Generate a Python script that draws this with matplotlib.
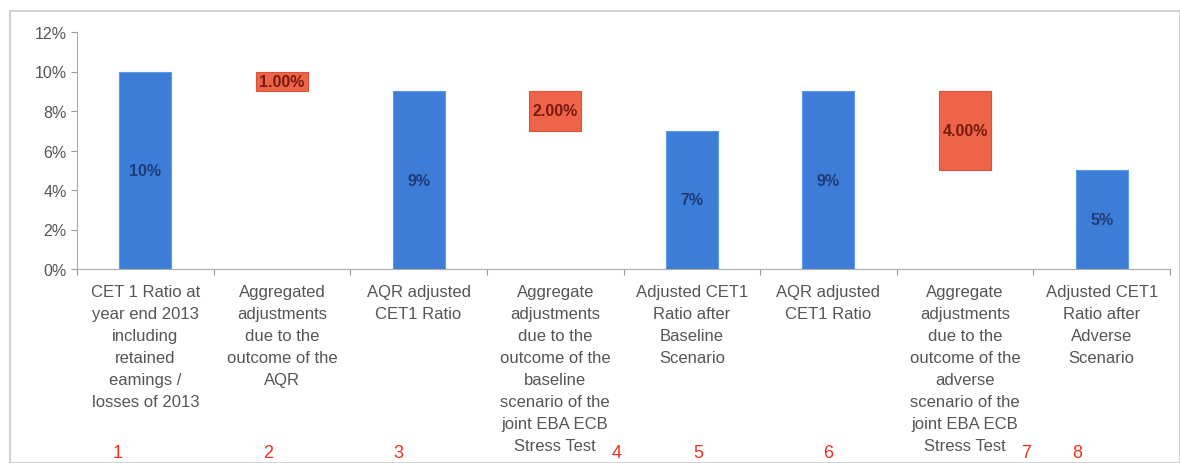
import numpy as np
import matplotlib.pyplot as plt
from matplotlib.patches import Rectangle

# chart data
categories = [
    "CET 1 Ratio at\nyear end 2013\nincluding\nretained\neamings /\nlosses of 2013",
    "Aggregated\nadjustments\ndue to the\noutcome of the\nAQR",
    "AQR adjusted\nCET1 Ratio",
    "Aggregate\nadjustments\ndue to the\noutcome of the\nbaseline\nscenario of the\njoint EBA ECB\nStress Test",
    "Adjusted CET1\nRatio after\nBaseline\nScenario",
    "AQR adjusted\nCET1 Ratio",
    "Aggregate\nadjustments\ndue to the\noutcome of the\nadverse\nscenario of the\njoint EBA ECB\nStress Test",
    "Adjusted CET1\nRatio after\nAdverse\nScenario",
]
bar_bottom = [0, 9, 0, 7, 0, 0, 5, 0]
bar_height = [10, 1, 9, 2, 7, 9, 4, 5]
is_adjust = [False, True, False, True, False, False, True, False]
bar_labels = ["10%", "1.00%", "9%", "2.00%", "7%", "9%", "4.00%", "5%"]
step_numbers = ["1", "2", "3", "4", "5", "6", "7", "8"]
step_offsets = [-0.2, -0.1, -0.15, 0.45, 0.05, 0.0, 0.45, -0.18]

blue = "#3D7DD8"
red = "#EE6448"

plt.rcParams['font.family'] = ['Liberation Sans', 'DejaVu Sans']

fig = plt.figure(figsize=(11.8, 4.64), dpi=100)
fig.patches.append(Rectangle((10/1180, 0), 1 - 10/1180, 1 - 12/464, transform=fig.transFigure,
                             fill=False, edgecolor="#C8C8C8", linewidth=1.2))
ax = fig.add_axes([77/1180, 1 - 270/464, (1170 - 77)/1180, (270 - 33)/464])

x = np.arange(len(categories))
colors = [red if a else blue for a in is_adjust]
ax.bar(x, bar_height, bottom=bar_bottom, width=0.38, color=colors,
       edgecolor=["#D9533A" if a else "#5B9BEA" for a in is_adjust], linewidth=0.8)

for i in range(len(x)):
    yc = bar_bottom[i] + bar_height[i] / 2
    ax.text(x[i], yc, bar_labels[i], ha="center", va="center", fontsize=11.5,
            fontweight="bold", color="#7A1A10" if is_adjust[i] else "#1E3C78")
    ax.text(x[i], -0.75, categories[i], ha="center", va="top", fontsize=12,
            color="#555555", linespacing=1.58)
    ax.text(x[i] + step_offsets[i], -9.3, step_numbers[i], ha="center", va="center",
            fontsize=13, color="#F03020")

ax.set_xlim(-0.5, len(categories) - 0.5)
ax.set_ylim(0, 12)
ax.set_yticks(range(0, 13, 2))
ax.set_yticklabels([f"{v}%" for v in range(0, 13, 2)], fontsize=11.5, color="#555555")
ax.set_xticks(np.arange(-0.5, len(categories), 1))
ax.set_xticklabels([])
ax.tick_params(axis="x", length=4, color="#999999", direction="out")
ax.tick_params(axis="y", length=4, color="#999999", direction="out")
for s in ["top", "right"]:
    ax.spines[s].set_visible(False)
ax.spines["left"].set_color("#AAAAAA")
ax.spines["bottom"].set_color("#AAAAAA")

fig.savefig("out.png", dpi=100)
